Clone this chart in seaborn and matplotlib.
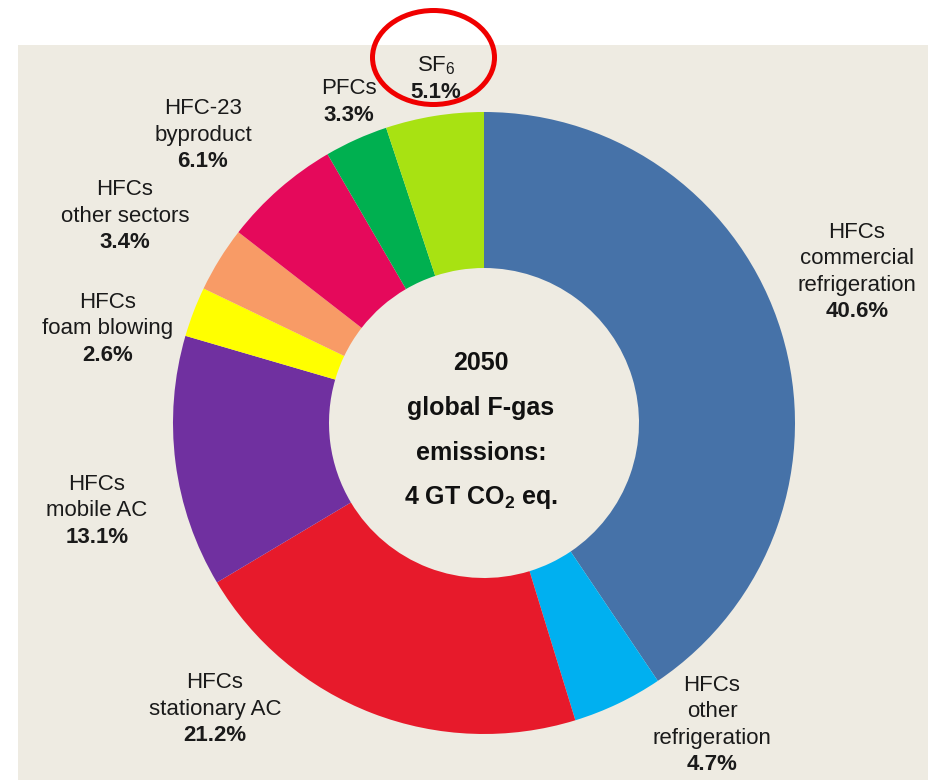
import matplotlib
matplotlib.use("Agg")
import matplotlib.pyplot as plt
from matplotlib.patches import Rectangle, Ellipse
import seaborn as sns

# ---- data ----
categories = [
    "HFCs\ncommercial\nrefrigeration",
    "HFCs\nother\nrefrigeration",
    "HFCs\nstationary AC",
    "HFCs\nmobile AC",
    "HFCs\nfoam blowing",
    "HFCs\nother sectors",
    "HFC-23\nbyproduct",
    "PFCs",
    r"SF$_\mathregular{6}$",
]
shares = [40.6, 4.7, 21.2, 13.1, 2.6, 3.4, 6.1, 3.3, 5.1]
colors = ["#4672A8", "#00B0F0", "#E71A2B", "#7030A0", "#FFFF00",
          "#F89B66", "#E5095B", "#00B050", "#A8E212"]
center_lines = ["2050", "global F-gas", "emissions:", r"4 GT CO$_\mathbf{2}$ eq."]

# ---- layout (image pixel coordinates) ----
W, H = 929, 780
label_pos = [(857, 272), (712, 725), (215, 709), (97, 511), (108, 329),
             (125, 216), (203, 135), (349, 102), (436, 79)]
center_xy = (484, 423)
r_out, r_in = 311, 155

sns.set_theme(style="white")
plt.rcParams["font.family"] = ["Liberation Sans", "DejaVu Sans"]
plt.rcParams["mathtext.fontset"] = "custom"
plt.rcParams["mathtext.rm"] = "Liberation Sans"
plt.rcParams["mathtext.bf"] = "Liberation Sans:bold"

fig = plt.figure(figsize=(W / 100, H / 100), dpi=100)
fig.patch.set_facecolor("white")
ax = fig.add_axes([0, 0, 1, 1])

def Y(y):
    return H - y

# beige panel
ax.add_patch(Rectangle((18, 0), W - 18, Y(45), facecolor="#EEEBE2",
                       edgecolor="none", zorder=0))

ax.pie(shares, colors=colors, startangle=90, counterclock=False,
       radius=r_out, center=(center_xy[0], Y(center_xy[1])),
       wedgeprops=dict(width=r_out - r_in, edgecolor="none", linewidth=0))

ax.set_aspect("equal")
ax.set_xlim(0, W)
ax.set_ylim(0, H)
ax.axis("off")

line_h = 26.5
for name, v, (lx, ly) in zip(categories, shares, label_pos):
    lines = name.split("\n") + [f"{v:.1f}%"]
    n = len(lines)
    y0 = ly - (n - 1) / 2 * line_h
    for i, t in enumerate(lines):
        ax.text(lx, Y(y0 + i * line_h), t, ha="center", va="center",
                fontsize=16, color="#1a1a1a",
                fontweight="bold" if i == n - 1 else "normal", zorder=5)

for i, t in enumerate(center_lines):
    ax.text(481, Y(363 + i * 45), t, ha="center", va="center",
            fontsize=18, fontweight="bold", color="#111111", zorder=5)

# red highlight ellipse
ax.add_patch(Ellipse((433.5, Y(57.5)), 122, 94, facecolor="none",
                     edgecolor="#F00000", linewidth=3.6, zorder=6,
                     clip_on=False))

fig.savefig("out.png", dpi=100, facecolor="white")
